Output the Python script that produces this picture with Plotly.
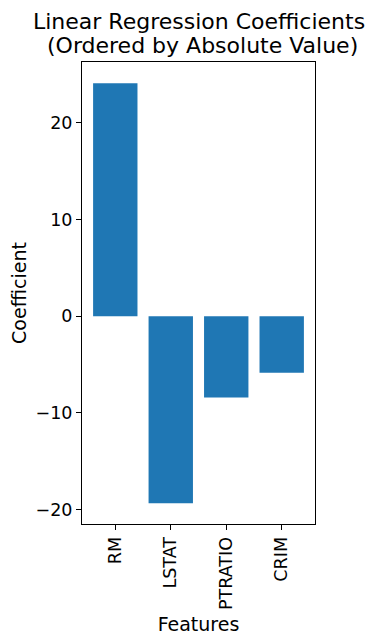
import plotly.graph_objects as go

features = ["RM", "LSTAT", "PTRATIO", "CRIM"]
coefficients = [24.1, -19.35, -8.4, -5.85]

title_lines = ["Linear Regression Coefficients", " (Ordered by Absolute Value)"]

fig = go.Figure(
    go.Bar(
        x=features,
        y=coefficients,
        marker=dict(color="#1f77b4", line=dict(width=0)),
        width=0.8,
    )
)

axis_style = dict(
    showline=True,
    linecolor="black",
    linewidth=1,
    mirror=True,
    ticks="outside",
    ticklen=5,
    tickcolor="black",
    showgrid=False,
    zeroline=False,
    automargin=False,
    tickfont=dict(size=17.5, color="black"),
)

# page body adds ~8px at top/left, so the figure is 8px smaller
fig.update_layout(
    width=372,
    height=636,
    margin=dict(l=74, r=65, t=54, b=120),
    paper_bgcolor="white",
    plot_bgcolor="white",
    font=dict(family="DejaVu Sans", color="black"),
    showlegend=False,
    xaxis=dict(
        **axis_style,
        range=[-0.6, 3.6],
        tickangle=-90,
        title=dict(text="Features", font=dict(size=19), standoff=8),
    ),
    yaxis=dict(
        **axis_style,
        range=[-21.5, 26.3],
        tickvals=[-20, -10, 0, 10, 20],
        title=dict(text="Coefficient", font=dict(size=19), standoff=8),
    ),
)

# two-line title, placed by hand above the plot area
for text, shift in zip(title_lines, [41, 17]):
    fig.add_annotation(
        text=text,
        xref="paper", yref="paper",
        x=0.5, y=1,
        xanchor="center", yanchor="middle",
        yshift=shift,
        showarrow=False,
        font=dict(size=22, color="black"),
    )

fig.write_html("out.html")
